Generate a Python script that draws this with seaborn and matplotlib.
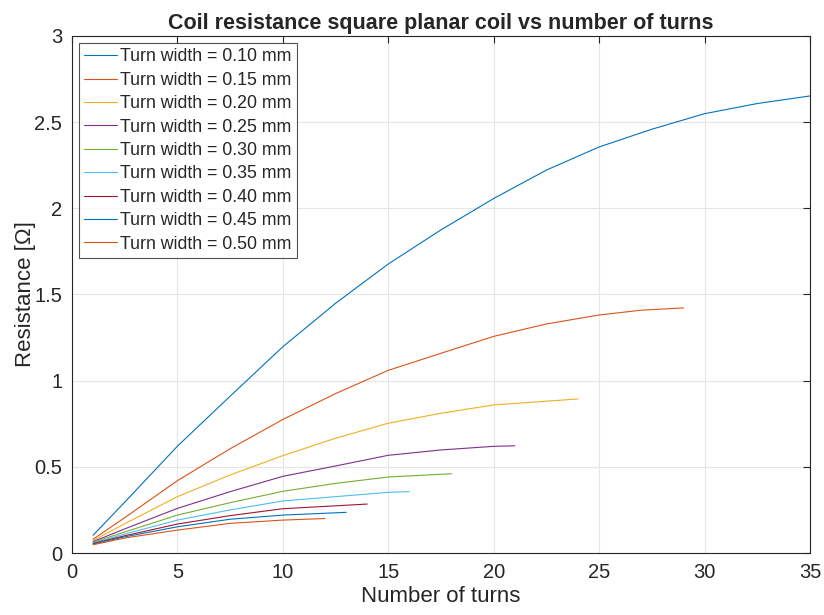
import matplotlib
matplotlib.use("Agg")
from matplotlib import pyplot as plt
import seaborn as sns
import pandas as pd

# values
widths = ["0.10", "0.15", "0.20", "0.25", "0.30", "0.35", "0.40", "0.45", "0.50"]

turns_010 = [1, 2.5, 5, 7.5, 10, 12.5, 15, 17.5, 20, 22.5, 25, 27.5, 30, 32.5, 35]
res_010 = [0.103, 0.295, 0.62, 0.91, 1.197, 1.449, 1.677, 1.875, 2.057, 2.222, 2.356, 2.459, 2.549, 2.608, 2.652]

turns_015 = [1, 2.5, 5, 7.5, 10, 12.5, 15, 17.5, 20, 22.5, 25, 27, 29]
res_015 = [0.080, 0.205, 0.42, 0.605, 0.775, 0.925, 1.06, 1.159, 1.257, 1.329, 1.381, 1.409, 1.422]

turns_020 = [1, 2.5, 5, 7.5, 10, 12.5, 15, 17.5, 20, 24]
res_020 = [0.072, 0.17, 0.327, 0.453, 0.565, 0.666, 0.753, 0.811, 0.859, 0.894]

turns_025 = [1, 2.5, 5, 7.5, 10, 12.5, 15, 17.5, 20, 21]
res_025 = [0.066, 0.14, 0.259, 0.356, 0.445, 0.505, 0.567, 0.598, 0.619, 0.622]

turns_030 = [1, 2.5, 5, 7.5, 10, 12.5, 15, 17.5, 18]
res_030 = [0.062, 0.122, 0.220, 0.292, 0.358, 0.404, 0.441, 0.457, 0.460]

turns_035 = [1, 2.5, 5, 7.5, 10, 15, 16]
res_035 = [0.058, 0.11, 0.191, 0.250, 0.302, 0.352, 0.356]

turns_040 = [1, 2.5, 5, 7.5, 10, 14]
res_040 = [0.055, 0.10, 0.168, 0.217, 0.257, 0.284]

turns_045 = [1, 2.5, 5, 7.5, 10, 13]
res_045 = [0.052, 0.094, 0.152, 0.196, 0.220, 0.236]

turns_050 = [1, 2.5, 5, 7.5, 10, 12]
res_050 = [0.048, 0.087, 0.133, 0.172, 0.191, 0.200]

all_turns = [turns_010, turns_015, turns_020, turns_025, turns_030,
             turns_035, turns_040, turns_045, turns_050]
all_res = [res_010, res_015, res_020, res_025, res_030,
           res_035, res_040, res_045, res_050]

# matlab default color order (wraps after 7)
colors = ["#0072BD", "#D95319", "#EDB120", "#7E2F8E", "#77AC30",
          "#4DBEEE", "#A2142F", "#0072BD", "#D95319"]

rows = []
for w, n_list, r_list in zip(widths, all_turns, all_res):
    for n, r in zip(n_list, r_list):
        rows.append({"turns": n, "res": r, "width": f"Turn width = {w} mm"})
df = pd.DataFrame(rows)
labels = [f"Turn width = {w} mm" for w in widths]

sns.set_style("white")
plt.rcParams["font.family"] = ["Liberation Sans", "DejaVu Sans"]

fig = plt.figure(figsize=(8.24, 6.15), dpi=100)
ax = fig.add_axes([0.0874, 0.1008, 0.8956, 0.8407])

sns.lineplot(data=df, x="turns", y="res", hue="width", hue_order=labels,
             palette=colors, estimator=None, sort=True, linewidth=0.8, ax=ax)

ax.set_xlim(0, 35)
ax.set_ylim(0, 3)
ax.set_xticks(range(0, 36, 5))
ax.set_yticks([0, 0.5, 1, 1.5, 2, 2.5, 3])
ax.set_yticklabels(["0", "0.5", "1", "1.5", "2", "2.5", "3"])
ax.grid(True, color="#e6e6e6", linewidth=0.8)
ax.set_axisbelow(True)
for s in ax.spines.values():
    s.set_color("#262626")
    s.set_linewidth(0.8)
ax.tick_params(direction="in", length=5, width=0.8, top=True, right=True,
               labelsize=14.5, colors="#262626")
ax.tick_params(axis="x", pad=7)
ax.tick_params(axis="y", pad=7)

ax.set_title("Coil resistance square planar coil vs number of turns",
             fontsize=15.5, fontweight="bold", pad=5)
ax.set_xlabel("Number of turns", fontsize=16, color="#262626", labelpad=3)
ax.set_ylabel("Resistance [Ω]", fontsize=16, color="#262626", labelpad=-1)

leg = ax.legend(loc="upper left", fontsize=12.8, frameon=True, fancybox=False,
                edgecolor="#262626", handlelength=1.85, labelspacing=0.36,
                borderpad=0.3, handletextpad=0.15, borderaxespad=0.4)
leg.get_frame().set_linewidth(0.8)

fig.savefig("out.png", dpi=100)
